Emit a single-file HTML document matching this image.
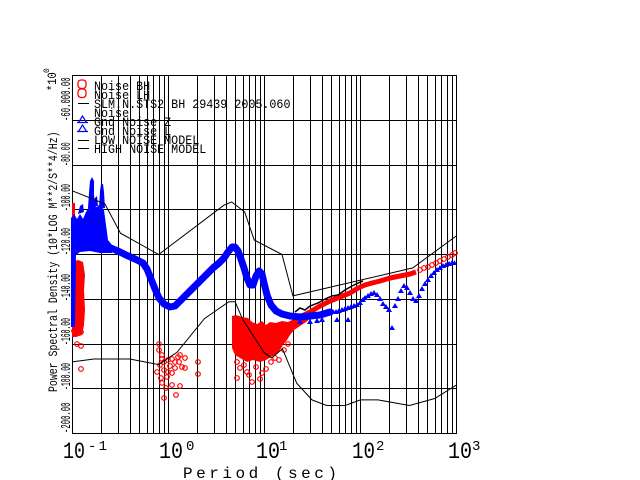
<!DOCTYPE html>
<html><head><meta charset="utf-8"><style>html,body{margin:0;padding:0;background:#fff;}svg{display:block;}</style></head>
<body>
<svg width="640" height="480" viewBox="0 0 640 480" xmlns="http://www.w3.org/2000/svg" font-family="'Liberation Mono', 'DejaVu Sans Mono', monospace">
<rect width="640" height="480" fill="#fff"/>
<!-- grid -->
<g stroke="#000" stroke-width="1" shape-rendering="crispEdges" fill="none">
<path d="M72.5 75V434M101.5 75V434M118.5 75V434M130.5 75V434M139.5 75V434M147.5 75V434M153.5 75V434M159.5 75V434M164.5 75V434
M168.5 75V434M197.5 75V434M214.5 75V434M226.5 75V434M235.5 75V434M243.5 75V434M249.5 75V434M255.5 75V434M260.5 75V434
M264.5 75V434M293.5 75V434M310.5 75V434M322.5 75V434M331.5 75V434M339.5 75V434M345.5 75V434M351.5 75V434M356.5 75V434
M360.5 75V434M389.5 75V434M406.5 75V434M418.5 75V434M427.5 75V434M435.5 75V434M441.5 75V434M447.5 75V434M452.5 75V434M456.5 75V434"/>
<path d="M72 75.5H457M72 120.5H457M72 165.5H457M72 209.5H457M72 254.5H457M72 299.5H457M72 344.5H457M72 388.5H457M72 433.5H457"/>
</g>

<!-- RED data (Noise BH / LH) -->
<g fill="#f00" stroke="none">
<polygon points="72,203 75,203 75,230 74,247 72,247"/>
<polygon points="72,262 78,260 83,262 85,275 84,290 85,310 84,325 82,335 76,337 72,337"/>
<polygon points="232,316 236,315 242,317 248,318 252,322 257,324 262,321 266,325 270,322 276,323 282,321 288,322 292,320 298,318 304,314 310,312 311,318 306,322 300,326 294,330 290,335 287,340 283,345 280,350 276,354 271,357 266,360 260,362 253,360 247,362 240,358 235,355 232,348 232,330"/>
</g>
<polyline fill="none" stroke="#f00" stroke-width="5" stroke-linejoin="round" points="288,326 295,321 302,316 310,312 320,306 330,301 340,297 350,293 358,288 365,285 372,283 380,281 390,278 400,276 410,274 416,272"/>
<g fill="none" stroke="#f00" stroke-width="1.2">
<circle cx="74" cy="331" r="2.3"/><circle cx="81" cy="332" r="2.3"/><circle cx="77" cy="344" r="2.3"/><circle cx="81" cy="346" r="2.3"/><circle cx="81" cy="369" r="2.3"/>
<circle cx="159" cy="344" r="2.3"/><circle cx="159" cy="350" r="2.3"/><circle cx="162" cy="355" r="2.3"/><circle cx="162" cy="359" r="2.3"/><circle cx="164" cy="362" r="2.3"/><circle cx="168" cy="360" r="2.3"/><circle cx="172" cy="359" r="2.3"/><circle cx="175" cy="362" r="2.3"/><circle cx="180" cy="355" r="2.3"/><circle cx="179" cy="362" r="2.3"/><circle cx="182" cy="367" r="2.3"/><circle cx="160" cy="365" r="2.3"/><circle cx="164" cy="370" r="2.3"/><circle cx="167" cy="377" r="2.3"/><circle cx="168" cy="372" r="2.3"/><circle cx="172" cy="373" r="2.3"/><circle cx="175" cy="368" r="2.3"/><circle cx="162" cy="383" r="2.3"/><circle cx="172" cy="385" r="2.3"/><circle cx="164" cy="398" r="2.3"/><circle cx="176" cy="395" r="2.3"/><circle cx="180" cy="386" r="2.3"/><circle cx="198" cy="362" r="2.3"/><circle cx="198" cy="374" r="2.3"/><circle cx="157" cy="372" r="2.3"/><circle cx="170" cy="366" r="2.3"/><circle cx="178" cy="357" r="2.3"/><circle cx="161" cy="378" r="2.3"/><circle cx="166" cy="388" r="2.3"/><circle cx="185" cy="358" r="2.3"/><circle cx="185" cy="368" r="2.3"/>
<circle cx="237" cy="378" r="2.3"/><circle cx="247" cy="372" r="2.3"/><circle cx="249" cy="375" r="2.3"/><circle cx="252" cy="382" r="2.3"/><circle cx="260" cy="379" r="2.3"/><circle cx="262" cy="373" r="2.3"/><circle cx="266" cy="369" r="2.3"/><circle cx="279" cy="360" r="2.3"/><circle cx="237" cy="362" r="2.3"/><circle cx="240" cy="368" r="2.3"/><circle cx="256" cy="367" r="2.3"/><circle cx="271" cy="362" r="2.3"/><circle cx="284" cy="350" r="2.3"/><circle cx="288" cy="344" r="2.3"/><circle cx="244" cy="365" r="2.3"/><circle cx="275" cy="358" r="2.3"/>
<circle cx="420" cy="270" r="2.3"/><circle cx="424" cy="268" r="2.3"/><circle cx="428" cy="267" r="2.3"/><circle cx="432" cy="265" r="2.3"/><circle cx="436" cy="263" r="2.3"/><circle cx="440" cy="261" r="2.3"/><circle cx="444" cy="259" r="2.3"/><circle cx="448" cy="257" r="2.3"/><circle cx="452" cy="255" r="2.3"/><circle cx="455" cy="253" r="2.3"/>
</g>

<!-- BLUE data -->
<g fill="#00f" stroke="none">
<polygon points="71,218 74,214 77,219 80,214 83,219 86,212 89,207 93,205 97,207 100,204 104,210 106,225 108,240 112,245 112,253 100,253 90,251 80,252 76,255 75,327 71,327"/>
<polygon points="88,208 89,193 90,181 92,177 94,181 94,195 96,208"/>
<polygon points="99,208 100,191 101,184 103,184 104,192 105,208"/>
<polygon points="78,214 80,206 83,204 84,212"/>
<polygon points="93,206 95,198 97,196 98,206"/>
</g>
<polyline fill="none" stroke="#00f" stroke-width="7" stroke-linejoin="round" stroke-linecap="round" points="106,246 113,249 118,251 126,255 135,259 143,263 147,269 151,279 155,289 159,298 164,304 170,307 175,306 180,301 186,295 193,288 200,281 207,274 213,268 219,263 224,258 228,252 232,247 235,247 238,251 241,259 244,268 247,278 250,285 253,285 256,276 259,271 262,274 264,283 267,295 271,305 276,311 282,314 290,316 300,317 310,316 320,315 330,312"/>
<path fill="#00f" d="M297,324h6l-3,-5zM307,324h6l-3,-5zM314,323h6l-3,-5zM319,322h6l-3,-5zM334,322h6l-3,-5zM345,322h6l-3,-5z
M327,315h6l-3,-5zM330,314h6l-3,-5zM333,314h6l-3,-5zM336,313h6l-3,-5zM339,312h6l-3,-5zM342,311h6l-3,-5zM345,310h6l-3,-5zM348,309h6l-3,-5zM351,308h6l-3,-5zM354,307h6l-3,-5zM357,305h6l-3,-5zM360,302h6l-3,-5zM362,300h6l-3,-5zM365,298h6l-3,-5zM368,296h6l-3,-5zM371,295h6l-3,-5zM374,297h6l-3,-5zM377,301h6l-3,-5zM380,306h6l-3,-5zM383,309h6l-3,-5zM386,312h6l-3,-5zM389,330h6l-3,-5zM392,308h6l-3,-5zM395,301h6l-3,-5zM398,293h6l-3,-5zM401,288h6l-3,-5zM404,290h6l-3,-5zM407,295h6l-3,-5zM410,301h6l-3,-5zM413,303h6l-3,-5zM416,298h6l-3,-5zM419,291h6l-3,-5zM422,286h6l-3,-5zM425,282h6l-3,-5zM428,278h6l-3,-5zM431,275h6l-3,-5zM434,272h6l-3,-5zM437,270h6l-3,-5zM440,268h6l-3,-5zM443,267h6l-3,-5zM446,266h6l-3,-5zM449,265h6l-3,-5zM452,265h5l-2.5,-5z"/>

<!-- black SLM trace -->
<polyline fill="none" stroke="#000" stroke-width="1.5" points="295,312 300,308 305,310 310,306 318,303 325,299 332,296 338,295 345,290 352,286 358,283 363,281"/>

<!-- Noise models -->
<g fill="none" stroke="#000" stroke-width="1">
<polyline points="72,190.7 104.9,203.9 120.5,233.2 158.7,254.5 223.7,205.3 231.6,201.9 244.7,212.0 254.2,240.0 282.0,254.5 292.9,295.9 412.8,267.9 456,236.1"/>
<polyline points="72,361.9 94.1,359.0 129.8,359.0 158.7,364.6 177.0,352.3 204.5,318.6 228.8,301.7 235.1,301.7 242.7,319.4 264,352.4 271.6,358.0 282.5,348.8 296.7,383.2 312.0,399.9 326.7,405.5 345.1,405.5 360.4,399.9 378.0,399.9 409.5,405.5 434.7,398.5 456,385.3"/>
</g>

<!-- Legend -->
<g fill="none" stroke="#f00" stroke-width="1.3">
<rect x="78" y="80" width="8" height="8.5" rx="3"/>
<rect x="78" y="89" width="8" height="8.5" rx="3"/>
</g>
<g fill="none" stroke="#00f" stroke-width="1.2">
<path d="M77,122.5H88M78.5,122.5L82.5,116L86.5,122.5"/>
<path d="M77,131.5H88M78.5,131.5L82.5,125L86.5,131.5"/>
</g>
<g stroke="#000" stroke-width="1" shape-rendering="crispEdges">
<path d="M78 103.5H89M78 140.5H89M78 148.5H89"/>
</g>
<g fill="#000" font-size="13">
<text transform="translate(94,90) scale(0.9,1)">Noise BH</text>
<text transform="translate(94,99) scale(0.9,1)">Noise LH</text>
<text transform="translate(94,108) scale(0.9,1)">SLM.N.STS2 BH 29439 2005.060</text>
<text transform="translate(94,117) scale(0.9,1)">Noise</text>
<text transform="translate(94,126) scale(0.9,1)">Gnd Noise Z</text>
<text transform="translate(94,135) scale(0.9,1)">Gnd Noise L</text>
<text transform="translate(94,144) scale(0.9,1)">LOW NOISE MODEL</text>
<text transform="translate(94,153) scale(0.9,1)">HIGH NOISE MODEL</text>
</g>

<!-- Y tick labels -->
<g fill="#000" font-size="14">
<text transform="translate(70,121) rotate(-90) scale(0.52,1)">-60.000.00</text>
<text transform="translate(70,166) rotate(-90) scale(0.47,1)">-80.00</text>
<text transform="translate(70,211) rotate(-90) scale(0.46,1)">-100.00</text>
<text transform="translate(70,255) rotate(-90) scale(0.46,1)">-120.00</text>
<text transform="translate(70,301) rotate(-90) scale(0.46,1)">-140.00</text>
<text transform="translate(70,345) rotate(-90) scale(0.46,1)">-160.00</text>
<text transform="translate(70,390) rotate(-90) scale(0.46,1)">-180.00</text>
<text transform="translate(70,433) rotate(-90) scale(0.52,1)">-200.00</text>
</g>
<!-- Y title -->
<g fill="#000" font-size="13">
<text transform="translate(57,392) rotate(-90) scale(0.76,1)">Power Spectral Density (10*LOG M**2/S**4/Hz)</text>
<text transform="translate(56,91) rotate(-90) scale(0.8,1)">*10</text>
<text transform="translate(49,73) rotate(-90)" font-size="8">0</text>
</g>

<!-- X tick labels -->
<g fill="#000" font-size="23">
<text x="63" y="458" textLength="22" lengthAdjust="spacingAndGlyphs">10</text>
<text x="159" y="458" textLength="24" lengthAdjust="spacingAndGlyphs">10</text>
<text x="256" y="458" textLength="24" lengthAdjust="spacingAndGlyphs">10</text>
<text x="352" y="458" textLength="23" lengthAdjust="spacingAndGlyphs">10</text>
<text x="448" y="458" textLength="24" lengthAdjust="spacingAndGlyphs">10</text>
</g>
<g fill="#000" font-size="14">
<text x="88" y="450" textLength="19" lengthAdjust="spacing">-1</text>
<text x="186" y="450">0</text>
<text x="279" y="450">1</text>
<text x="376" y="450">2</text>
<text x="472" y="450">3</text>
</g>
<text x="183" y="478" font-size="16" fill="#000" textLength="154" lengthAdjust="spacing">Period (sec)</text>
</svg>
</body></html>
